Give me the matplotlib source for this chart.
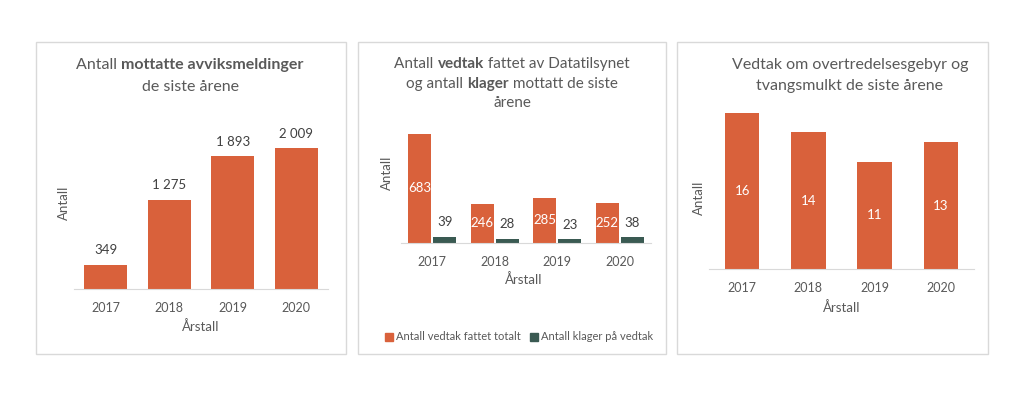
import matplotlib
matplotlib.use('Agg')
import matplotlib.pyplot as plt
from matplotlib.patches import Rectangle, Patch
import numpy as np

# Data
years = ['2017', '2018', '2019', '2020']
avvik = [349, 1275, 1893, 2009]
vedtak = [683, 246, 285, 252]
klager = [39, 28, 23, 38]
gebyr = [16, 14, 11, 13]

ORANGE = '#D9613B'
GREEN = '#3A5A52'
GREY = '#595959'
DARK = '#404040'
FONT = ['Lato', 'DejaVu Sans']

plt.rcParams['font.family'] = FONT

W, H = 1024, 393
fig = plt.figure(figsize=(W / 100, H / 100), dpi=100)
renderer = fig.canvas.get_renderer()


def fx(x):
    return x / W


def fy(y):
    return 1 - y / H


def add_axes(left, right, top, bottom):
    return fig.add_axes([fx(left), fy(bottom), (right - left) / W, (bottom - top) / H])


def seg_width(s, weight, size):
    t1 = fig.text(0, 0, 'x' + s + 'x', fontsize=size, fontweight=weight)
    t2 = fig.text(0, 0, 'xx', fontsize=size, fontweight=weight)
    w = t1.get_window_extent(renderer).width - t2.get_window_extent(renderer).width
    t1.remove()
    t2.remove()
    return w


def rich_line(cx, cy, parts, size=11.5):
    # parts: list of (text, bold)
    widths = [seg_width(s, 'bold' if b else 'normal', size) for s, b in parts]
    x = cx - sum(widths) / 2
    for (s, b), w in zip(parts, widths):
        fig.text(fx(x), fy(cy), s, fontsize=size, fontweight='bold' if b else 'normal',
                 color=GREY, ha='left', va='center')
        x += w


def style_axes(ax, ymax, tick_pad):
    ax.set_xlim(-0.5, 3.5)
    ax.set_ylim(0, ymax)
    for s in ['left', 'right', 'top']:
        ax.spines[s].set_visible(False)
    ax.spines['bottom'].set_color('#d9d9d9')
    ax.set_yticks([])
    ax.set_xticks(range(len(years)))
    ax.set_xticklabels(years)
    ax.tick_params(axis='x', length=0, pad=tick_pad, labelsize=9, labelcolor=GREY)
    ax.patch.set_alpha(0)


# panel frames
for l, r in [(36, 346), (358, 666), (677, 988)]:
    fig.patches.append(Rectangle((fx(l), fy(354)), (r - l) / W, (354 - 42) / H,
                                 transform=fig.transFigure, fill=False,
                                 edgecolor='#d9d9d9', linewidth=1))

x = np.arange(len(years))

# Panel 1
ax1 = add_axes(74, 328, 110, 289)
style_axes(ax1, 179 / (141 / 2009), 9)
bars = ax1.bar(x, avvik, width=0.68, color=ORANGE)
for b, v in zip(bars, avvik):
    ax1.annotate(f'{v:,}'.replace(',', ' '), (b.get_x() + b.get_width() / 2, v),
                 xytext=(0, 6), textcoords='offset points', ha='center', va='bottom',
                 fontsize=9.5, color=DARK)
rich_line(190, 65, [('Antall ', False), ('mottatte avviksmeldinger', True)])
rich_line(190, 87, [('de siste årene', False)])
fig.text(fx(64), fy(203), 'Antall', rotation=90, ha='center', va='center', fontsize=9.5, color=GREY)
fig.text(fx(201), fy(327), 'Årstall', ha='center', va='center', fontsize=9.5, color=GREY)

# Panel 2
ax2 = add_axes(401, 651, 120, 243)
style_axes(ax2, 123 / (109 / 683), 9)
b_v = ax2.bar(x - 0.2, vedtak, width=0.37, color=ORANGE)
b_k = ax2.bar(x + 0.2, klager, width=0.37, color=GREEN)
for b, v in zip(b_v, vedtak):
    ax2.text(b.get_x() + b.get_width() / 2, v / 2, str(v), ha='center', va='center',
             fontsize=9.5, color='white')
for b, v in zip(b_k, klager):
    ax2.annotate(str(v), (b.get_x() + b.get_width() / 2, v),
                 xytext=(0, 6), textcoords='offset points', ha='center', va='bottom',
                 fontsize=9.5, color=DARK)
rich_line(512, 64, [('Antall ', False), ('vedtak', True), (' fattet av Datatilsynet', False)], size=11)
rich_line(512, 84, [('og antall ', False), ('klager', True), (' mottatt de siste', False)], size=11)
rich_line(512, 103, [('årene', False)], size=11)
fig.text(fx(387), fy(173), 'Antall', rotation=90, ha='center', va='center', fontsize=9.5, color=GREY)
fig.text(fx(524), fy(280), 'Årstall', ha='center', va='center', fontsize=9.5, color=GREY)
handles = [Patch(color=ORANGE, label='Antall vedtak fattet totalt'),
           Patch(color=GREEN, label='Antall klager på vedtak')]
fig.legend(handles=handles, loc='center', bbox_to_anchor=(fx(519), fy(337)), ncol=2,
           frameon=False, fontsize=8, handlelength=0.7, handleheight=0.7,
           handletextpad=0.3, columnspacing=0.8, labelcolor=GREY)

# Panel 3
ax3 = add_axes(709, 974, 110, 269)
style_axes(ax3, 159 / (156 / 16), 9)
bars = ax3.bar(x, gebyr, width=0.52, color=ORANGE)
for b, v in zip(bars, gebyr):
    ax3.text(b.get_x() + b.get_width() / 2, v / 2, str(v), ha='center', va='center',
             fontsize=9.5, color='white')
rich_line(850, 65, [('Vedtak om overtredelsesgebyr og', False)])
rich_line(850, 86, [('tvangsmulkt de siste årene', False)])
fig.text(fx(699), fy(198), 'Antall', rotation=90, ha='center', va='center', fontsize=9.5, color=GREY)
fig.text(fx(842), fy(308), 'Årstall', ha='center', va='center', fontsize=9.5, color=GREY)

fig.savefig('out.png', dpi=100, facecolor='white')
